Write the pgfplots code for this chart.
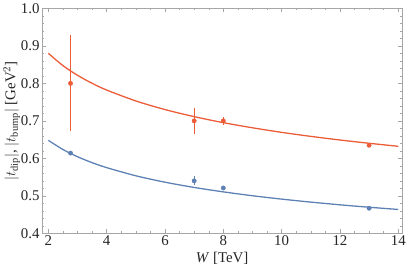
\documentclass[border=0pt]{standalone}
\usepackage{pgfplots}
\pgfplotsset{compat=1.18}
\usepackage{fontspec}
\setmainfont{Liberation Serif}
\definecolor{myred}{rgb}{0.92,0.36,0.22}
\definecolor{myblue}{rgb}{0.368,0.507,0.710}
\begin{document}
\begin{tikzpicture}
\begin{axis}[
  scale only axis,
  width=362bp, height=226bp,
  xmin=1.78, xmax=14.14, ymin=0.4, ymax=1.0,
  xtick={2,4,...,14}, ytick={0.4,0.5,...,1.0},
  minor x tick num=3, minor y tick num=4,
  yticklabel style={xshift=1bp, /pgf/number format/.cd,fixed,fixed zerofill,precision=1},
  /pgf/number format/assume math mode=true,
  tick align=inside,
  major tick length=4bp, minor tick length=2bp,
  axis line style={gray!70, line width=0.5pt},
  tick style={gray!70, line width=0.4pt},
  ticklabel style={font=\fontsize{15}{17}\selectfont, text=black!85},
  xticklabel style={yshift=1bp},
  label style={font=\fontsize{15}{17}\selectfont, text=black!85},
  xlabel={\textit{W} [TeV]},
  ylabel={$|t_{\mathrm{dip}}|$, $|t_{\mathrm{bump}}|$ [GeV$^2$]},
  xlabel style={yshift=1bp},
  ylabel style={yshift=-6bp},
  clip=true,
]
\addplot[myred, line width=1.3pt, smooth] coordinates {
(2,0.880)(2.5,0.8473)(3,0.8214)(3.5,0.8002)(4,0.7821)(5,0.7531)(6,0.7301)(7,0.7112)(8,0.6952)(9,0.6815)(10,0.6693)(11,0.6586)(12,0.6489)(13,0.6402)(14,0.6321)};
\addplot[myblue, line width=1.3pt, smooth] coordinates {
(2,0.648)(2.5,0.6236)(3,0.6043)(3.5,0.5885)(4,0.5752)(5,0.5535)(6,0.5364)(7,0.5224)(8,0.5106)(9,0.5003)(10,0.4913)(11,0.4833)(12,0.4761)(13,0.4696)(14,0.4637)};
\addplot[myred, only marks, mark=*, mark size=2.2pt, mark options={draw=myred, fill=myred},
  error bars/.cd, y dir=both, y explicit, error mark=none,
  error bar style={draw=myred, line width=0.9pt}]
  coordinates {
  (2.76,0.80) +- (0,0.128)
  (7,0.70) +- (0,0.035)
  (8,0.70) +- (0,0.01)
  (13,0.635) +- (0,0.005)
};
\addplot[myblue, only marks, mark=*, mark size=2.2pt, mark options={draw=myblue, fill=myblue},
  error bars/.cd, y dir=both, y explicit, error mark=none,
  error bar style={draw=myblue, line width=0.9pt}]
  coordinates {
  (2.76,0.614) +- (0,0.004)
  (7,0.540) +- (0,0.012)
  (8,0.521) +- (0,0.004)
  (13,0.467) +- (0,0.004)
};
\end{axis}
\end{tikzpicture}
\end{document}
